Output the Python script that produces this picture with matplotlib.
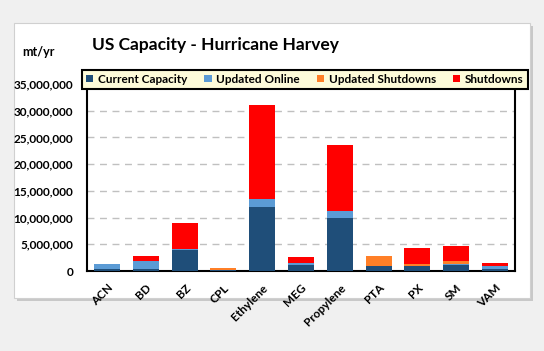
import matplotlib
matplotlib.use("Agg")
import matplotlib.pyplot as plt
from matplotlib.patches import Rectangle
from matplotlib.ticker import FuncFormatter, MultipleLocator
import numpy as np

plt.rcParams['font.family'] = ['Lato', 'DejaVu Sans']

categories = ["ACN", "BD", "BZ", "CPL", "Ethylene", "MEG", "Propylene", "PTA", "PX", "SM", "VAM"]
current_capacity = [300000, 300000, 3850000, 150000, 12000000, 1200000, 9900000, 900000, 1000000, 1200000, 300000]
updated_online = [1100000, 1500000, 350000, 0, 1500000, 300000, 1300000, 100000, 0, 100000, 700000]
updated_shutdowns = [0, 0, 0, 450000, 0, 0, 0, 1900000, 350000, 500000, 0]
shutdowns = [0, 1100000, 4800000, 0, 17500000, 1200000, 12300000, 0, 2900000, 2900000, 500000]
series_names = ["Current Capacity", "Updated Online", "Updated Shutdowns", "Shutdowns"]
colors = ["#1f4e79", "#5b9bd5", "#ff7f27", "#ff0000"]

fig = plt.figure(figsize=(5.44, 3.51), dpi=100)
fig.patch.set_facecolor("#f0f0f0")

W, H = 544, 351
def fx(x): return x / W
def fy(y): return 1 - y / H

# panel shadow and panel
fig.patches.append(Rectangle((fx(17), fy(301)), fx(516), (298 - 23) / H, transform=fig.transFigure,
                             facecolor="#c8c8c8", edgecolor="none", zorder=-20))
fig.patches.append(Rectangle((fx(14), fy(298)), fx(516), (298 - 23) / H, transform=fig.transFigure,
                             facecolor="white", edgecolor="#d0d0d0", linewidth=0.8, zorder=-10))

ax = fig.add_axes([fx(87), fy(271), fx(515 - 87), (271 - 84) / H])
ax.set_zorder(1)
ax.set_facecolor("white")
x = np.arange(len(categories))
bottom = np.zeros(len(categories))
for vals, name, c in zip([current_capacity, updated_online, updated_shutdowns, shutdowns], series_names, colors):
    v = np.array(vals, dtype=float)
    ax.bar(x, v, 0.67, bottom=bottom, color=c, label=name, zorder=3)
    bottom += v

ax.set_xlim(-0.52, len(categories) - 0.48)
ax.set_ylim(0, 35000000)
ax.yaxis.set_major_locator(MultipleLocator(5000000))
ax.yaxis.set_major_formatter(FuncFormatter(lambda v, p: f"{int(v):,}"))
ax.grid(axis="y", linestyle=(0, (5, 4)), color="#c0c0c0", linewidth=1.0, zorder=0)
ax.set_xticks(x)
ax.set_xticklabels(categories, rotation=45, ha="right", rotation_mode="anchor",
                   fontsize=8.5, fontweight="bold")
ax.tick_params(axis="x", length=0, pad=8)
ax.tick_params(axis="y", length=0, pad=10)
for lab in ax.get_yticklabels():
    lab.set_fontsize(8.5)
    lab.set_fontweight("bold")
for s in ["left", "bottom", "right"]:
    ax.spines[s].set_linewidth(1.5)
    ax.spines[s].set_color("black")
ax.spines["top"].set_visible(False)

handles, labels = ax.get_legend_handles_labels()
leg = fig.legend(handles, labels, loc="lower left", ncol=4, mode="expand",
                 bbox_to_anchor=(fx(82), fy(89), fx(528 - 82), (89 - 67) / H),
                 frameon=True, fancybox=False, handlelength=0.6, handleheight=0.6,
                 handletextpad=0.4, columnspacing=0.8, borderaxespad=0, borderpad=0.35,
                 prop={"weight": "bold", "size": 8.5})
leg.set_zorder(5)
leg.get_frame().set_facecolor("#fdfbd9")
leg.get_frame().set_edgecolor("black")
leg.get_frame().set_linewidth(1.5)
leg.get_frame().set_alpha(1)

fig.text(fx(92), fy(45), "US Capacity - Hurricane Harvey", fontsize=12.5, fontweight="bold",
         va="center", ha="left")
fig.text(fx(22), fy(52), "mt/yr", fontsize=9, fontweight="bold", va="center", ha="left")

fig.savefig("out.png", dpi=100, facecolor=fig.get_facecolor())
